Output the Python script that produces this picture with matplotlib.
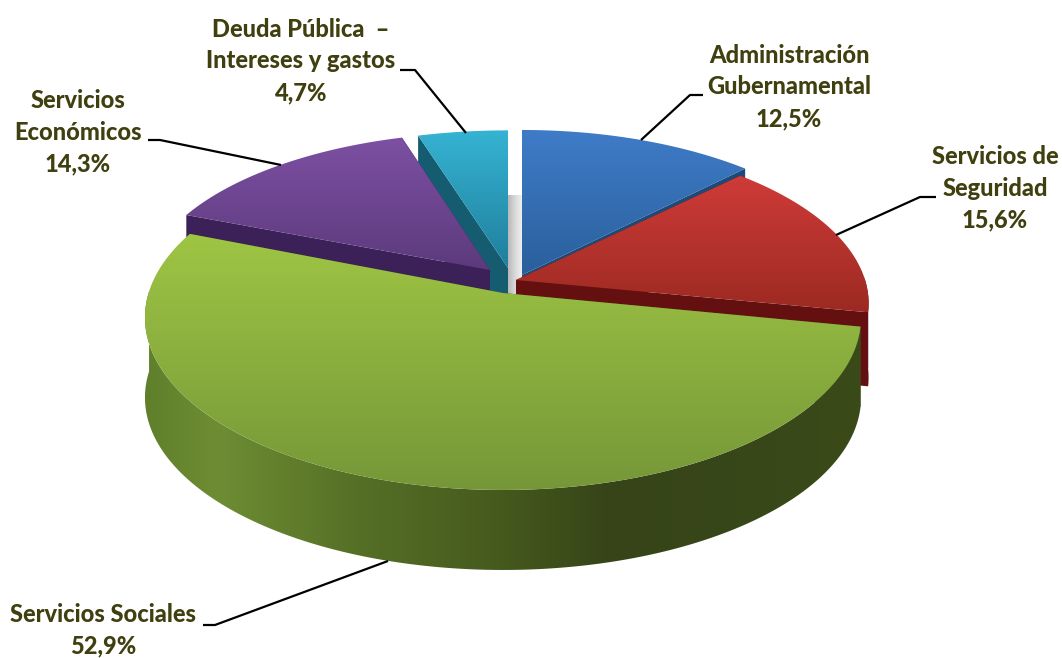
import numpy as np
import matplotlib
matplotlib.use("Agg")
import matplotlib.pyplot as plt
from matplotlib.colors import LinearSegmentedColormap
from matplotlib.patches import Polygon

# Slices clockwise from the top
names = ["Administración\nGubernamental", "Servicios de\nSeguridad", "Servicios Sociales",
         "Servicios\nEconómicos", "Deuda Pública  –\nIntereses y gastos"]
values = [12.5, 15.6, 52.9, 14.3, 4.7]

W, H = 1062, 658
RX, RY, K = 358, 169, 0.142   # disk size and perspective

# apex position, scale and height for each slice
apex = [(522, 275), (516, 280), (503, 293), (490, 270), (508, 268)]
scale = [(0.97, 0.98), (0.975, 0.96), (0.99, 1.0), (0.96, 0.93), (0.98, 0.93)]
depth = [60, 74, 80, 60, 60]
top_cols = [("#3f7cc8", "#2a5f9c"), ("#cf3b38", "#9c2a22"), ("#9fc544", "#769738"),
            ("#7d50a3", "#5c3a7c"), ("#36b3d3", "#1f7f9c")]
cut_cols = ["#1d4a78", "#640f10", "#3a5218", "#3c2058", "#155c70"]
wall_stops = [(0, "#5f7f2b"), (0.1, "#6e8d33"), (0.3, "#556f26"), (0.5, "#45591d"),
              (0.65, "#364418"), (1, "#3a4a18")]

fig = plt.figure(figsize=(W / 100, H / 100), dpi=100)
ax = fig.add_axes([0, 0, 1, 1])


def project(ang, i):
    """Point on the perspective disk for angle in degrees, for slice i."""
    t = np.radians(ang)
    u, v = np.cos(t), -np.sin(t)
    w = 1 - K * v
    return (apex[i][0] + scale[i][0] * RX * u / w,
            apex[i][1] + scale[i][1] * RY * v / w)


def fill_gradient(pts, stops, horizontal=False, z=1):
    pts = np.asarray(pts)
    x0, x1 = pts[:, 0].min(), pts[:, 0].max()
    y0, y1 = pts[:, 1].min(), pts[:, 1].max()
    cmap = LinearSegmentedColormap.from_list("g", stops)
    grad = np.linspace(0, 1, 256)
    grad = grad.reshape(1, -1) if horizontal else grad.reshape(-1, 1)
    im = ax.imshow(grad, cmap=cmap, extent=(x0, x1, y1, y0), aspect="auto", zorder=z)
    poly = Polygon(pts, closed=True, transform=ax.transData, fc="none", ec="none")
    ax.add_patch(poly)
    im.set_clip_path(poly)


def extrude(pts, d):
    pts = np.asarray(pts)
    low = pts + [0, d]
    return np.vstack([pts, low[::-1]])


# grey back wall seen through the gap at the top
fill_gradient([(508, 195), (522, 195), (522, 295), (508, 295)],
              ["#b8b8b8", "#d8d8d8", "#f0f0f0"], horizontal=True, z=1)

# angles of the slice edges, clockwise from 90 degrees
edges = 90 - np.cumsum([0] + values) * 3.6

# back to front, green last
z = 2
for i in [0, 4, 3, 1, 2]:
    a = np.linspace(edges[i], edges[i + 1], 200)
    x, y = project(a, i)
    arc = np.column_stack([x, y])
    ap = np.array(apex[i], dtype=float)

    # cut faces: only the two straight edges, pushed down
    for e in (arc[0], arc[-1]):
        ax.add_patch(Polygon(extrude([ap, e], depth[i]), closed=True, fc=cut_cols[i],
                             ec="none", zorder=z))
    z += 1

    # outer wall, front half of the arc only
    sel = np.sin(np.radians(a)) < 0.02
    if sel.any():
        wall = extrude(arc[sel], depth[i])
        if i == 2:
            fill_gradient(wall, wall_stops, horizontal=True, z=z)
        else:
            ax.add_patch(Polygon(wall, closed=True, fc=cut_cols[i], ec="none", zorder=z))
        z += 1

    fill_gradient(np.vstack([ap, arc]), top_cols[i], z=z)
    z += 1

# leader lines
leaders = [[(641, 140), (690, 95), (703, 95)],
           [(836, 235), (920, 197), (936, 197)],
           [(388, 561), (215, 625), (203, 625)],
           [(281, 165), (160, 140), (148, 140)],
           [(466, 133), (415, 70), (400, 70)]]
for pts in leaders:
    xs, ys = zip(*pts)
    ax.plot(xs, ys, color="black", lw=1.6, zorder=z, solid_capstyle="butt")

# labels
label_pos = [(789, 87), (995, 188), (103, 630), (78, 132), (301, 61)]
for n, v, (lx, ly) in zip(names, values, label_pos):
    txt = n + "\n" + f"{v:.1f}".replace(".", ",") + "%"
    ax.text(lx, ly, txt, ha="center", va="center", family="Lato", weight="black",
            fontsize=17, color="#3f3f10", linespacing=1.45, zorder=z)

ax.set_xlim(0, W)
ax.set_ylim(H, 0)
ax.axis("off")
fig.savefig("out.png", dpi=100, facecolor="white")
